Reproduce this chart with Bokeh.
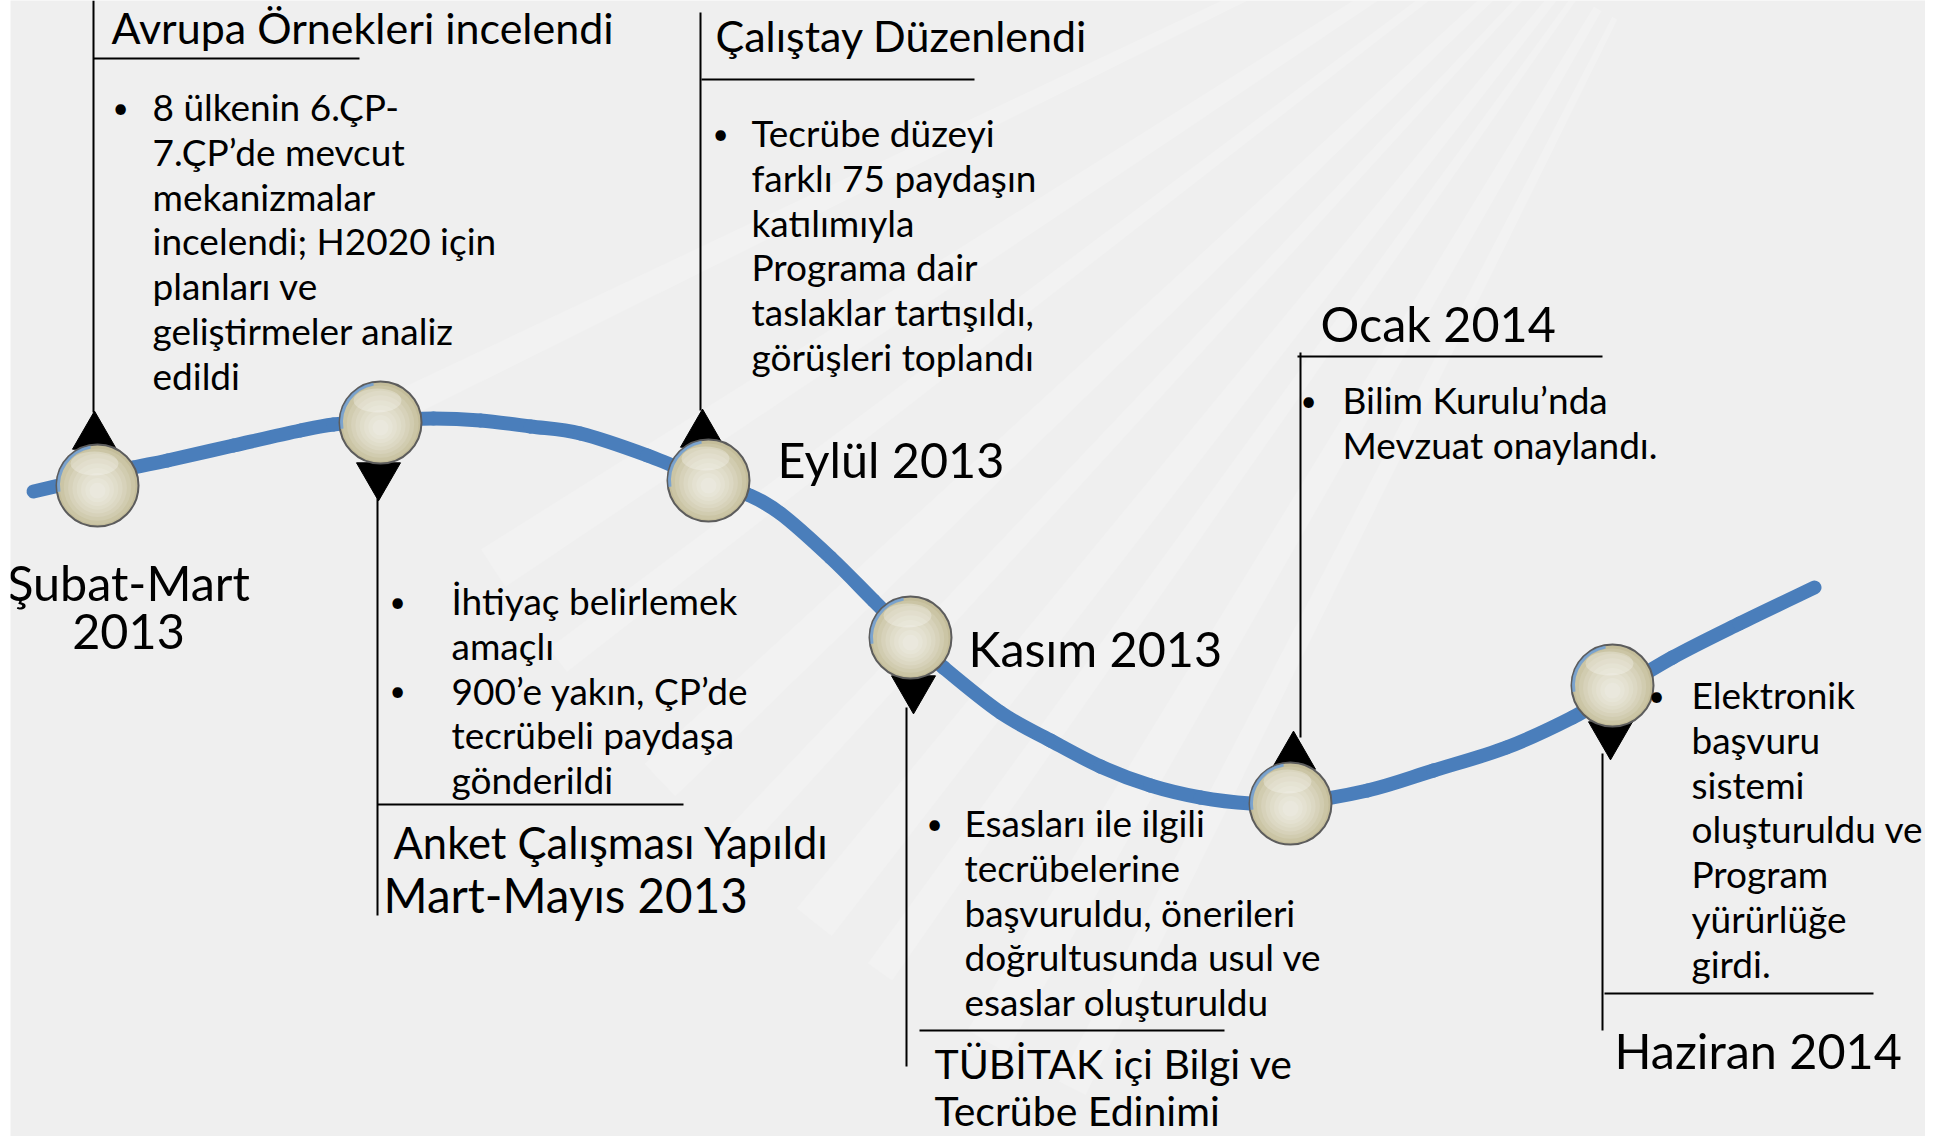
from bokeh.plotting import figure
from bokeh.models import Range1d, ColumnDataSource
from bokeh.embed import file_html
from bokeh.resources import INLINE
from bokeh.core.properties import value

FONT = "Lato"

# ---------------- data ----------------
curve_x = [33, 97, 133, 167, 233, 300, 333, 380, 433, 480, 530, 580, 647, 708, 747, 780, 830, 873, 910,
           943, 1000, 1050, 1100, 1150, 1200, 1250, 1290, 1367, 1433, 1506, 1572, 1612, 1672, 1739, 1814]
curve_y = [491, 476, 467, 460, 445, 430, 424, 420, 418, 420, 426, 433, 455, 480, 494, 513, 557, 600, 637,
           667, 712, 740, 766, 785, 797, 803, 803, 790, 770, 747, 717, 693, 657, 623, 587]

node_x = [97, 380, 708, 910, 1290, 1612]
node_y = [485, 422, 480, 637, 803, 685]
node_dir = ["up", "down", "up", "down", "up", "down"]

dates = ["Şubat-Mart\n2013", "Mart-Mayıs 2013", "Eylül 2013", "Kasım 2013", "Ocak 2014", "Haziran 2014"]
titles = ["Avrupa Örnekleri incelendi", "Anket Çalışması Yapıldı", "Çalıştay Düzenlendi",
          "TÜBİTAK içi Bilgi ve\nTecrübe Edinimi", "", ""]
bullets = [
    [["8 ülkenin 6.ÇP-", "7.ÇP’de mevcut", "mekanizmalar", "incelendi; H2020 için",
      "planları ve", "geliştirmeler analiz", "edildi"]],
    [["İhtiyaç belirlemek", "amaçlı"], ["900’e yakın, ÇP’de", "tecrübeli paydaşa", "gönderildi"]],
    [["Tecrübe düzeyi", "farklı 75 paydaşın", "katılımıyla", "Programa dair",
      "taslaklar tartışıldı,", "görüşleri toplandı"]],
    [["Esasları ile ilgili", "tecrübelerine", "başvuruldu, önerileri",
      "doğrultusunda usul ve", "esaslar oluşturuldu"]],
    [["Bilim Kurulu’nda", "Mevzuat onaylandı."]],
    [["Elektronik", "başvuru", "sistemi", "oluşturuldu ve", "Program", "yürürlüğe", "girdi."]],
]

# ---------------- layout (page pixel coordinates) ----------------
W, H = 1925, 1136
LEFT = 10
LINE_H = 44.8
BODY = "37px"
BULLET = "28px"
TITLE_SIZES = ["43px", "43.5px", "43px", "41px"]
TITLE_GAP = [49, 49, 49, 47]
DATE_SIZES = ["48.5px", "47.5px", "48.5px", "48.5px", "48.5px", "48.5px"]

date_pos = [(128, 581, "center"), (383, 894, "left"), (777, 458, "left"),
            (968, 647, "left"), (1320, 322, "left"), (1614, 1049, "left")]
title_pos = [(111, 27), (393, 841), (715, 35), (934, 1063), None, None]
body_pos = [(120, 152, 106), (397, 451, 600), (720, 751, 132), (934, 964, 822), (1308, 1342, 399), (1656, 1691, 694)]
tri_cy = [436, 475, 434, 688, 756, 734]
tri_dx = [-3, -2, -6, 3, 3, -2]

seg_x0 = [93, 93, 377, 377, 700, 701, 906, 919, 1300, 1297, 1602, 1604]
seg_y0 = [0, 58, 498, 804, 12, 79, 707, 1030, 352, 356, 753, 993]
seg_x1 = [93, 359, 377, 683, 700, 974, 906, 1224, 1300, 1602, 1602, 1873]
seg_y1 = [412, 58, 915, 804, 410, 79, 1066, 1030, 737, 356, 1030, 993]

p = figure(width=W, height=H, x_range=Range1d(LEFT, W), y_range=Range1d(H, 0),
           output_backend="svg", toolbar_location=None, min_border=0)
p.min_border_left = LEFT
p.axis.visible = False
p.grid.visible = False
p.outline_line_color = None
p.background_fill_color = "#efefef"
p.border_fill_color = "white"

# faint white streaks in the background
p.annular_wedge(x=[1750] * 9, y=[-250] * 9, inner_radius=300, outer_radius=1500,
                start_angle=[-2.05, -2.12, -2.2, -2.26, -2.33, -2.4, -2.5, -2.58, -2.7],
                end_angle=[-2.03, -2.09, -2.18, -2.23, -2.31, -2.37, -2.48, -2.55, -2.68],
                start_angle_units="rad", end_angle_units="rad",
                fill_color="white", fill_alpha=0.18, line_color=None)

# connector lines
p.segment(x0=seg_x0, y0=seg_y0, x1=seg_x1, y1=seg_y1, line_color="black", line_width=2)

# timeline curve: smooth cubic segments through the read points
n = len(curve_x)
px = [curve_x[0]] + curve_x + [curve_x[-1]]
py = [curve_y[0]] + curve_y + [curve_y[-1]]
bx0, by0, bx1, by1, cx0, cy0, cx1, cy1 = [], [], [], [], [], [], [], []
for i in range(1, n):
    bx0.append(px[i]); by0.append(py[i]); bx1.append(px[i + 1]); by1.append(py[i + 1])
    cx0.append(px[i] + (px[i + 1] - px[i - 1]) / 6); cy0.append(py[i] + (py[i + 1] - py[i - 1]) / 6)
    cx1.append(px[i + 1] - (px[i + 2] - px[i]) / 6); cy1.append(py[i + 1] - (py[i + 2] - py[i]) / 6)
p.bezier(x0=bx0, y0=by0, x1=bx1, y1=by1, cx0=cx0, cy0=cy0, cx1=cx1, cy1=cy1,
         line_color="#4a7ebb", line_width=14, line_cap="round")

# pointer triangles
for d, mk in (("up", "triangle"), ("down", "inverted_triangle")):
    xs = [node_x[i] + tri_dx[i] for i in range(6) if node_dir[i] == d]
    ys = [tri_cy[i] for i in range(6) if node_dir[i] == d]
    p.scatter(xs, ys, marker=mk, size=44, fill_color="black", line_color="black")

# glass balls (soft radial shading by stacked discs)
p.circle(node_x, node_y, radius=41, fill_color="#c4bd9a", line_color="#5c5c5c", line_width=2)
shade = ["#cbc5a5", "#d1ccb0", "#d7d2ba", "#dcd8c3", "#e0ddca", "#e4e1d1", "#e7e5d7", "#eae8dd"]
for k, c in enumerate(shade):
    r = 38 - k * 4.3
    p.circle(node_x, [y + 1 + k * 0.6 for y in node_y], radius=r, fill_color=c, line_color=None)
p.ellipse([x - 3 for x in node_x], [y - 22 for y in node_y], width=48, height=24,
          fill_color="white", fill_alpha=0.28, line_color=None)
p.arc(node_x, node_y, radius=39, start_angle=1.75, end_angle=3.3, line_color="#6f9fd6",
      line_width=3, line_alpha=0.85)

# texts
def add_text(xs, ys, txt, size, align="left"):
    src = ColumnDataSource(dict(x=xs, y=ys, t=txt))
    p.text(x="x", y="y", text="t", source=src, text_font=value(FONT), text_font_size=size,
           text_color="black", text_align=align, text_baseline="middle")

for (x, y, al), d, s in zip(date_pos, dates, DATE_SIZES):
    parts = d.split("\n")
    add_text([x] * len(parts), [y + 50 * k for k in range(len(parts))], parts, s, al)

for pos, t, s, g in zip(title_pos, titles, TITLE_SIZES + ["", ""], TITLE_GAP + [0, 0]):
    if pos is None or not t:
        continue
    parts = t.split("\n")
    add_text([pos[0]] * len(parts), [pos[1] + g * k for k in range(len(parts))], parts, s)

for (bx, tx, ty), groups in zip(body_pos, bullets):
    row = 0
    for g in groups:
        add_text([bx], [ty + row * LINE_H], ["•"], BULLET, "center")
        add_text([tx] * len(g), [ty + (row + k) * LINE_H for k in range(len(g))], g, BODY)
        row += len(g)

open("out.html", "w").write(file_html(p, INLINE))
